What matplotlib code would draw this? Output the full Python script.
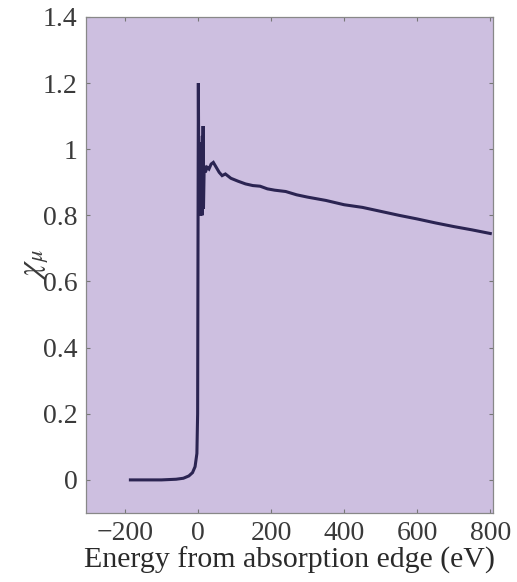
import matplotlib
matplotlib.use('Agg')
import matplotlib.pyplot as plt

# X-ray absorption spectrum, normalised
energy = [-185, -150, -100, -60, -40, -25, -15, -8, -3, -1, 0, 1, 2, 3, 4, 5,
          6, 7, 8, 9, 10, 11, 12, 13, 14, 15, 17, 20, 25, 30, 36, 42, 50, 58,
          66, 75, 90, 110, 130, 150, 170, 190, 210, 240, 270, 300, 350, 400,
          450, 500, 550, 600, 650, 700, 750, 800]
chi_mu = [0.0, 0.0, 0.0, 0.002, 0.005, 0.012, 0.022, 0.04, 0.08, 0.2, 0.7,
          1.2, 0.95, 0.85, 1.0, 0.82, 1.02, 0.8, 0.98, 0.85, 1.0, 0.8, 1.04,
          0.85, 1.07, 0.82, 0.95, 0.93, 0.945, 0.94, 0.955, 0.96, 0.945,
          0.93, 0.92, 0.925, 0.912, 0.903, 0.895, 0.89, 0.888, 0.88, 0.876,
          0.872, 0.862, 0.855, 0.845, 0.832, 0.824, 0.812, 0.8, 0.789,
          0.777, 0.766, 0.756, 0.745]

xticks = [-200, 0, 200, 400, 600, 800]
yticks = [0, 0.2, 0.4, 0.6, 0.8, 1.0, 1.2, 1.4]
ytick_labels = ['0', '0.2', '0.4', '0.6', '0.8', '1', '1.2', '1.4']

plt.rcParams['font.family'] = ['Liberation Serif', 'DejaVu Serif']
plt.rcParams['mathtext.fontset'] = 'stix'

fig = plt.figure(figsize=(5.17, 5.82), dpi=100)
ax = fig.add_axes([0.166, 0.1186, 0.788, 0.8524])
ax.set_facecolor('#cdbfe0')

ax.plot(energy, chi_mu, color='#2b2452', lw=2.2, solid_joinstyle='miter')

ax.set_xlim(-307, 808)
ax.set_ylim(-0.1, 1.4)
ax.set_xticks(xticks)
ax.set_yticks(yticks)
ax.set_yticklabels(ytick_labels)
ax.tick_params(direction='in', length=3, width=0.8, color='#777777',
               top=True, right=True, labelsize=20, labelcolor='#3a3a3a', pad=6)
for s in ax.spines.values():
    s.set_color('#888888')
    s.set_linewidth(0.9)

ax.set_xlabel('Energy from absorption edge (eV)', fontsize=21.5, color='#2a2a2a', labelpad=0)
ax.set_ylabel(r'$\chi_\mu$', fontsize=23, color='#3a3a3a', labelpad=-6)

fig.savefig('out.png', dpi=100)
